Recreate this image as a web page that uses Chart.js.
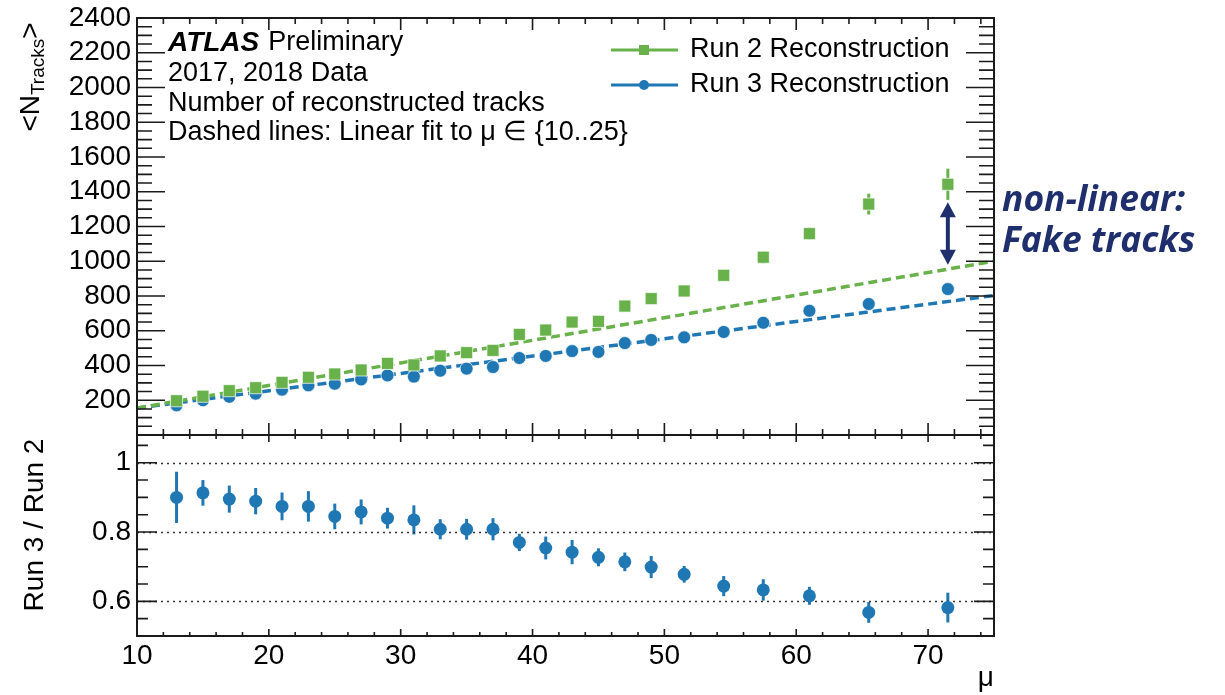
<!DOCTYPE html>
<html>
<head>
<meta charset="utf-8">
<script src="https://cdn.jsdelivr.net/npm/chart.js@4.4.1/dist/chart.umd.min.js"></script>
<style>
  html, body { margin: 0; padding: 0; background: #fff; }
  #wrap { position: relative; width: 1225px; height: 695px; overflow: hidden; }
  #top { position: absolute; left: 0; top: 0; }
  #bottom { position: absolute; left: 0; top: 425px; }
</style>
</head>
<body>
<div id="wrap">
  <canvas id="top" width="1225" height="445"></canvas>
  <canvas id="bottom" width="1225" height="270"></canvas>
</div>
<script>
// pile-up bins (mu)
const mu = [13, 15, 17, 19, 21, 23, 25, 27, 29, 31, 33, 35, 37, 39, 41, 43, 45, 47, 49, 51.5, 54.5, 57.5, 61, 65.5, 71.5];

// <N tracks>
const run2Tracks = [197, 223, 255, 272, 303, 332, 351, 374, 412, 403, 455, 474, 487, 579, 604, 650, 654, 742, 785, 829, 919, 1023, 1159, 1329, 1443];
const run2Err    = [4, 4, 4, 4, 4, 4, 4, 4, 5, 5, 5, 5, 5, 6, 6, 6, 6, 8, 8, 8, 12, 35, 35, 60, 90];
const run3Tracks = [171, 200, 220, 238, 261, 286, 295, 320, 343, 336, 370, 382, 391, 443, 455, 483, 478, 529, 547, 562, 593, 646, 715, 754, 840];
const run3Err    = [3, 3, 3, 3, 3, 3, 3, 3, 3, 3, 3, 3, 3, 4, 4, 4, 4, 5, 5, 5, 5, 6, 8, 8, 15];

// linear fits to mu in {10..25}, end points
const fitMu  = [10, 75];
const run2Fit = [155, 1000];
const run3Fit = [155, 803];

// ratio panel
const ratio    = [0.900, 0.913, 0.895, 0.889, 0.874, 0.874, 0.845, 0.858, 0.840, 0.835, 0.808, 0.808, 0.808, 0.770, 0.754, 0.742, 0.727, 0.714, 0.699, 0.678, 0.644, 0.633, 0.616, 0.568, 0.582];
const ratioErr = [0.074, 0.037, 0.039, 0.038, 0.040, 0.044, 0.037, 0.036, 0.030, 0.042, 0.029, 0.030, 0.032, 0.025, 0.033, 0.035, 0.026, 0.027, 0.032, 0.024, 0.029, 0.031, 0.026, 0.030, 0.043];

// tick labels
const xTickLabels = [10, 20, 30, 40, 50, 60, 70];
const yTickLabels = [200, 400, 600, 800, 1000, 1200, 1400, 1600, 1800, 2000, 2200, 2400];
const ratioTickLabels = [0.6, 0.8, 1];

// "non-linear" arrow (mu, from, to)
const arrowMu = 71.5;
const arrowFrom = 980;
const arrowTo = 1340;

const green = '#68b14b';
const blue = '#1f78b4';
const navy = '#1f2f6e';
const SANS = '"Liberation Sans", Arial, Helvetica, sans-serif';
const tickFont = { family: SANS, size: 28 };

// fixed axis box, no extra label padding
const fixWidth = s => { s.width = 137; s.paddingTop = 0; s.paddingBottom = 0; };

// error bars from dataset.errorBars
const errorBars = {
  id: 'errorBars',
  beforeDatasetsDraw(chart) {
    const ctx = chart.ctx;
    const ys = chart.scales.y;
    chart.data.datasets.forEach((ds, i) => {
      if (!ds.errorBars) return;
      const meta = chart.getDatasetMeta(i);
      ctx.save();
      ctx.strokeStyle = ds.backgroundColor;
      ctx.lineWidth = 3;
      meta.data.forEach((el, j) => {
        const v = ds.data[j].y, e = ds.errorBars[j];
        ctx.beginPath();
        ctx.moveTo(el.x, ys.getPixelForValue(v - e));
        ctx.lineTo(el.x, ys.getPixelForValue(v + e));
        ctx.stroke();
      });
      ctx.restore();
    });
  }
};

// ROOT style frame with inward ticks on all sides
const rootFrame = {
  id: 'rootFrame',
  beforeDatasetsDraw(chart, args, opts) {
    if (!opts.dotted) return;
    const ctx = chart.ctx, a = chart.chartArea, ys = chart.scales.y;
    ctx.save();
    ctx.strokeStyle = '#333';
    ctx.lineWidth = 1.5;
    ctx.setLineDash([2, 4]);
    opts.dotted.forEach(v => {
      const y = Math.round(ys.getPixelForValue(v)) + 0.5;
      ctx.beginPath();
      ctx.moveTo(a.left, y);
      ctx.lineTo(a.right, y);
      ctx.stroke();
    });
    ctx.restore();
  },
  afterDraw(chart, args, opts) {
    const ctx = chart.ctx, a = chart.chartArea;
    const xs = chart.scales.x, ys = chart.scales.y;
    ctx.save();
    ctx.strokeStyle = '#1a1a1a';
    ctx.lineWidth = 1.6;
    ctx.beginPath();
    for (let v = xs.min; v <= xs.max + 1e-9; v += opts.xMinor) {
      const major = Math.abs(v / opts.xMajor - Math.round(v / opts.xMajor)) < 1e-6;
      const len = major ? opts.xMajLen : opts.xMinLen;
      const x = xs.getPixelForValue(v);
      ctx.moveTo(x, a.bottom); ctx.lineTo(x, a.bottom - len);
      ctx.moveTo(x, a.top); ctx.lineTo(x, a.top + len);
    }
    for (let v = opts.yStart; v <= ys.max + 1e-9; v += opts.yMinor) {
      const major = opts.yMajors.some(m => Math.abs(m - v) < 1e-6);
      const len = major ? opts.yMajLen : opts.yMinLen;
      const y = ys.getPixelForValue(v);
      ctx.moveTo(a.left, y); ctx.lineTo(a.left + len, y);
      ctx.moveTo(a.right, y); ctx.lineTo(a.right - len, y);
    }
    ctx.stroke();
    ctx.lineWidth = 2;
    ctx.strokeRect(a.left, a.top, a.right - a.left, a.bottom - a.top);
    ctx.restore();
  }
};

// texts, legend, axis title and annotation on the upper panel
const topOverlay = {
  id: 'topOverlay',
  afterDraw(chart) {
    const ctx = chart.ctx;
    const xs = chart.scales.x, ys = chart.scales.y;
    ctx.save();
    ctx.fillStyle = '#000';
    ctx.textBaseline = 'middle';
    ctx.textAlign = 'left';

    ctx.font = 'bold italic 28px ' + SANS;
    ctx.fillText('ATLAS', 168, 43);
    const w = ctx.measureText('ATLAS').width;
    ctx.font = '27px ' + SANS;
    ctx.fillText('Preliminary', 168 + w + 9, 43);
    ctx.fillText('2017, 2018 Data', 168, 74);
    ctx.fillText('Number of reconstructed tracks', 168, 104);
    ctx.fillText('Dashed lines: Linear fit to \u03bc \u2208 {10..25}', 168, 133);

    // legend
    const rows = [
      { y: 50, color: green, shape: 'rect', text: 'Run 2 Reconstruction' },
      { y: 85, color: blue, shape: 'circle', text: 'Run 3 Reconstruction' }
    ];
    rows.forEach(r => {
      ctx.strokeStyle = r.color;
      ctx.fillStyle = r.color;
      ctx.lineWidth = 3;
      ctx.beginPath();
      ctx.moveTo(611, r.y); ctx.lineTo(678, r.y);
      ctx.stroke();
      if (r.shape === 'rect') ctx.fillRect(639, r.y - 5, 10, 10);
      else { ctx.beginPath(); ctx.arc(644, r.y, 5, 0, Math.PI * 2); ctx.fill(); }
      ctx.fillStyle = '#000';
      ctx.font = '27px ' + SANS;
      ctx.fillText(r.text, 690, r.y);
    });

    // y axis title <N_Tracks>
    ctx.save();
    ctx.translate(31, 77);
    ctx.rotate(-Math.PI / 2);
    ctx.fillStyle = '#000';
    const big = '28px ' + SANS, small = '19px ' + SANS;
    ctx.font = big; const w1 = ctx.measureText('<N').width; const w3 = ctx.measureText('>').width;
    ctx.font = small; const w2 = ctx.measureText('Tracks').width;
    let x0 = -(w1 + w2 + w3) / 2;
    ctx.font = big; ctx.fillText('<N', x0, 0);
    ctx.font = small; ctx.fillText('Tracks', x0 + w1, 8);
    ctx.font = big; ctx.fillText('>', x0 + w1 + w2, 0);
    ctx.restore();

    // arrow
    const ax = xs.getPixelForValue(arrowMu);
    const yTop = ys.getPixelForValue(arrowTo), yBot = ys.getPixelForValue(arrowFrom);
    ctx.strokeStyle = navy; ctx.fillStyle = navy; ctx.lineWidth = 4;
    ctx.beginPath(); ctx.moveTo(ax, yTop + 12); ctx.lineTo(ax, yBot - 12); ctx.stroke();
    ctx.beginPath(); ctx.moveTo(ax, yTop); ctx.lineTo(ax - 8, yTop + 15); ctx.lineTo(ax + 8, yTop + 15); ctx.closePath(); ctx.fill();
    ctx.beginPath(); ctx.moveTo(ax, yBot); ctx.lineTo(ax - 8, yBot - 15); ctx.lineTo(ax + 8, yBot - 15); ctx.closePath(); ctx.fill();

    // annotation
    ctx.font = 'bold italic 30px "Open Sans", sans-serif';
    const mw = Math.max(ctx.measureText('non-linear:').width / 195, ctx.measureText('Fake tracks').width / 193);
    const fs = 30 / mw;
    ctx.font = 'bold italic ' + fs.toFixed(1) + 'px "Open Sans", sans-serif';
    ctx.fillStyle = navy;
    ctx.fillText('non-linear:', 1002, 201);
    ctx.fillText('Fake tracks', 1002, 242);
    ctx.restore();
  }
};

const bottomOverlay = {
  id: 'bottomOverlay',
  afterDraw(chart) {
    const ctx = chart.ctx;
    ctx.save();
    ctx.translate(35, 100);
    ctx.rotate(-Math.PI / 2);
    ctx.fillStyle = '#000';
    ctx.font = '28px ' + SANS;
    ctx.textAlign = 'center';
    ctx.textBaseline = 'middle';
    ctx.fillText('Run 3 / Run 2', 0, 0);
    ctx.restore();
  }
};

const pts = (xv, yv) => xv.map((x, i) => ({ x: x, y: yv[i] }));

new Chart(document.getElementById('top'), {
  type: 'scatter',
  data: {
    datasets: [
      { label: 'Run 2 Reconstruction', data: pts(mu, run2Tracks), errorBars: run2Err,
        pointStyle: 'rect', pointRadius: 8.5, backgroundColor: green, borderColor: 'rgba(255,255,255,0.7)', borderWidth: 1 },
      { label: 'Run 3 Reconstruction', data: pts(mu, run3Tracks), errorBars: run3Err,
        pointStyle: 'circle', pointRadius: 6.5, backgroundColor: blue, borderColor: 'rgba(255,255,255,0.7)', borderWidth: 1 },
      { label: 'Run 2 fit', type: 'line', data: pts(fitMu, run2Fit), borderColor: green,
        borderDash: [9, 5], borderWidth: 3.5, pointRadius: 0, fill: false },
      { label: 'Run 3 fit', type: 'line', data: pts(fitMu, run3Fit), borderColor: blue,
        borderDash: [9, 5], borderWidth: 3.5, pointRadius: 0, fill: false }
    ]
  },
  options: {
    responsive: false,
    animation: false,
    devicePixelRatio: 1,
    layout: { padding: { left: 0, right: 231, top: 18, bottom: 10 } },
    plugins: {
      legend: { display: false },
      tooltip: { enabled: false },
      rootFrame: { xMajor: 10, xMinor: 2, xMajLen: 12, xMinLen: 6,
                   yStart: 0, yMinor: 50, yMajors: [0].concat(yTickLabels), yMajLen: 28, yMinLen: 15 }
    },
    scales: {
      x: { type: 'linear', min: 10, max: 75, display: false },
      y: {
        type: 'linear', min: 0, max: 2400,
        afterFit: fixWidth,
        afterBuildTicks: s => { s.ticks = yTickLabels.map(v => ({ value: v })); },
        ticks: { font: tickFont, color: '#000', padding: 6, autoSkip: false, callback: v => String(v) },
        grid: { display: false, drawTicks: false },
        border: { display: false }
      }
    }
  },
  plugins: [errorBars, rootFrame, topOverlay]
});

new Chart(document.getElementById('bottom'), {
  type: 'scatter',
  data: {
    datasets: [
      { label: 'Run 3 / Run 2', data: pts(mu, ratio), errorBars: ratioErr,
        pointStyle: 'circle', pointRadius: 6.5, backgroundColor: blue, borderColor: blue, borderWidth: 0 }
    ]
  },
  options: {
    responsive: false,
    animation: false,
    devicePixelRatio: 1,
    layout: { padding: { left: 0, right: 231, top: 10, bottom: 0 } },
    plugins: {
      legend: { display: false },
      tooltip: { enabled: false },
      rootFrame: { dotted: ratioTickLabels, xMajor: 10, xMinor: 2, xMajLen: 7, xMinLen: 4,
                   yStart: 0.5, yMinor: 0.05, yMajors: ratioTickLabels, yMajLen: 20, yMinLen: 11 }
    },
    scales: {
      x: {
        type: 'linear', min: 10, max: 75,
        afterFit: s => { s.height = 59; s.paddingLeft = 0; s.paddingRight = 0; },
        afterBuildTicks: s => { s.ticks = xTickLabels.map(v => ({ value: v })); },
        ticks: { font: tickFont, color: '#000', padding: 3, maxRotation: 0, autoSkip: false },
        grid: { display: false, drawTicks: false },
        border: { display: false },
        title: { display: true, text: '\u03bc', align: 'end', color: '#000',
                 font: { family: SANS, size: 28 }, padding: { top: 0, bottom: 0 } }
      },
      y: {
        type: 'linear', min: 0.5, max: 1.08,
        afterFit: fixWidth,
        afterBuildTicks: s => { s.ticks = ratioTickLabels.map(v => ({ value: v })); },
        ticks: { font: tickFont, color: '#000', padding: 6, autoSkip: false, callback: v => String(v) },
        grid: { display: false, drawTicks: false },
        border: { display: false }
      }
    }
  },
  plugins: [errorBars, rootFrame, bottomOverlay]
});
</script>
</body>
</html>
